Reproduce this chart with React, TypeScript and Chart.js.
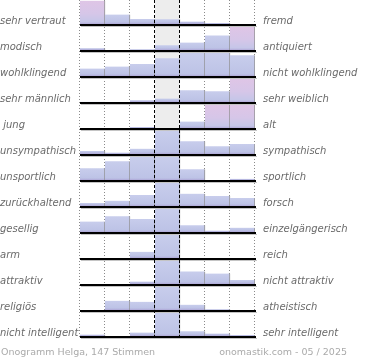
import { useEffect, useRef } from 'react';
import { Chart, registerables } from 'chart.js';

Chart.register(...registerables);

// ---- data ----
const columns = ['1', '2', '3', '4', '5', '6', '7'];

const leftLabels = [
  'sehr vertraut', 'modisch', 'wohlklingend', 'sehr männlich', ' jung', 'unsympathisch',
  'unsportlich', 'zurückhaltend', 'gesellig', 'arm', 'attraktiv', 'religiös', 'nicht intelligent',
];
const rightLabels = [
  'fremd', 'antiquiert', 'nicht wohlklingend', 'sehr weiblich', 'alt', 'sympathisch',
  'sportlich', 'forsch', 'einzelgängerisch', 'reich', 'nicht attraktiv', 'atheistisch', 'sehr intelligent',
];

// bar heights per row, relative to the row's largest bar (= 100)
const vertraut = [100, 43, 25, 24, 14, 8, 2];
const modisch = [11, 1, 7, 24, 35, 64, 100];
const wohlklingend = [35, 43, 53, 77, 100, 99, 89];
const maennlich = [5, 4, 11, 18, 52, 48, 100];
const jung = [0, 0, 8, 1, 31, 100, 100];
const unsympathisch = [16, 10, 26, 100, 57, 36, 45];
const unsportlich = [52, 81, 100, 100, 48, 0, 9];
const zurueckhaltend = [16, 26, 49, 100, 55, 45, 37];
const gesellig = [47, 69, 58, 100, 32, 10, 22];
const arm = [0, 0, 30, 100, 0, 0, 0];
const attraktiv = [3, 4, 14, 100, 56, 47, 21];
const religioes = [0, 42, 38, 100, 26, 7, 3];
const intelligent = [10, 4, 18, 100, 24, 14, 8];

const rows = [
  vertraut, modisch, wohlklingend, maennlich, jung, unsympathisch,
  unsportlich, zurueckhaltend, gesellig, arm, attraktiv, religioes, intelligent,
];

const footerLeft = 'Onogramm Helga, 147 Stimmen';
const footerRight = 'onomastik.com - 05 / 2025';

// ---- layout constants ----
const ROWS = rows.length;
const BAR_SPAN = 0.935; // fraction of a row a full bar fills
const LABEL_OFFSET = 0.12;
const MID = 3;
const FONT = '"DejaVu Sans", Verdana, sans-serif';

function barFill(context: any) {
  const chart = context.chart;
  const y = chart.scales?.y;
  const raw = context.raw as [number, number] | undefined;
  if (!y || !raw || !chart.chartArea) return '#c2c8e8';
  const yTop = y.getPixelForValue(raw[1]);
  const yBot = y.getPixelForValue(raw[0]);
  const h = yBot - yTop;
  if (h <= 0.5) return '#a99dd0';
  const rowIdx = context.datasetIndex as number;
  const vals = rows[rowIdx];
  const sum = vals.reduce((a, b) => a + b, 0);
  const share = (vals[context.dataIndex] ?? 0) / sum;
  const pink = context.dataIndex !== MID && share > 0.35;
  const g = chart.ctx.createLinearGradient(0, yTop, 0, yBot);
  const s = Math.max(0, 1 - 3 / h);
  if (pink) {
    g.addColorStop(0, '#dfc5e6');
    g.addColorStop(s * 0.6, '#d6c6e8');
    g.addColorStop(s, '#c5c6e8');
  } else {
    g.addColorStop(0, '#c8cdec');
    g.addColorStop(s, '#bdc3e6');
  }
  g.addColorStop(1, '#a89bd0');
  return g;
}

const decor = {
  id: 'decor',
  beforeDatasetsDraw(chart: any) {
    const { ctx, chartArea, scales } = chart;
    const x = scales.x;
    const y = scales.y;
    const w = x.getPixelForValue(1) - x.getPixelForValue(0);
    const edge = (j: number) => x.getPixelForValue(0) - w / 2 + j * w;
    const top = chartArea.top;
    const bottom = y.getPixelForValue(0);
    ctx.save();
    ctx.fillStyle = '#ededed';
    ctx.fillRect(edge(MID), top, w, bottom - top);
    ctx.strokeStyle = '#8a8a8a';
    ctx.lineWidth = 1;
    ctx.setLineDash([1, 2]);
    for (let j = 0; j <= columns.length; j++) {
      if (j === MID || j === MID + 1) continue;
      const px = Math.round(edge(j)) - 0.5;
      ctx.beginPath();
      ctx.moveTo(px, top);
      ctx.lineTo(px, bottom);
      ctx.stroke();
    }
    ctx.restore();
  },
  afterDatasetsDraw(chart: any) {
    const { ctx, chartArea, scales } = chart;
    const x = scales.x;
    const y = scales.y;
    const w = x.getPixelForValue(1) - x.getPixelForValue(0);
    const edge = (j: number) => x.getPixelForValue(0) - w / 2 + j * w;
    const top = chartArea.top;
    const bottom = y.getPixelForValue(0);
    ctx.save();
    // baselines
    for (let i = 0; i < ROWS; i++) {
      const yb = Math.round(y.getPixelForValue(i));
      ctx.fillStyle = '#c4c4c4';
      ctx.fillRect(edge(0) + 1, yb + 1, edge(columns.length) - edge(0) + 1, 1);
      ctx.fillStyle = '#000';
      ctx.fillRect(edge(0), yb - 1, edge(columns.length) - edge(0) + 1, 2);
    }
    // dashed middle lines
    ctx.strokeStyle = '#000';
    ctx.lineWidth = 1;
    ctx.setLineDash([3, 2]);
    for (const j of [MID, MID + 1]) {
      const px = Math.round(edge(j)) - 0.5;
      ctx.beginPath();
      ctx.moveTo(px, top);
      ctx.lineTo(px, bottom);
      ctx.stroke();
    }
    ctx.setLineDash([]);
    // footer
    ctx.fillStyle = '#aaaaaa';
    ctx.font = `9.5px ${FONT}`;
    ctx.textBaseline = 'middle';
    ctx.textAlign = 'left';
    ctx.fillText(footerLeft, 1, 353);
    ctx.textAlign = 'right';
    ctx.fillText(footerRight, 347, 353);
    ctx.restore();
  },
};

const labelTicks = (scale: any) => {
  scale.ticks = rows.map((_, i) => ({ value: ROWS - 1 - i + LABEL_OFFSET }));
};

const fitAxis = (width: number) => (s: any) => {
  s.width = width;
  s.paddingTop = 0;
  s.paddingBottom = 0;
};

export default function App() {
  const ref = useRef<HTMLCanvasElement>(null);
  useEffect(() => {
    if (!ref.current) return;
    const datasets = rows.map((vals, i) => {
      const base = ROWS - 1 - i;
      return {
        label: leftLabels[i],
        data: vals.map((v) => [base, base + (v / 100) * BAR_SPAN]),
        backgroundColor: barFill,
        borderColor: '#8e8e8e',
        borderWidth: { top: 0, right: 1, bottom: 0, left: 0 },
        borderSkipped: false,
        barPercentage: 1,
        categoryPercentage: 1,
        grouped: false,
        yAxisID: 'y',
      };
    });
    const chart = new Chart(ref.current, {
      type: 'bar',
      data: { labels: columns, datasets: datasets as any },
      options: {
        animation: false,
        responsive: true,
        maintainAspectRatio: false,
        layout: { padding: { top: 0, bottom: 23, left: 0, right: 0 } },
        plugins: { legend: { display: false }, tooltip: { enabled: false } },
        scales: {
          x: { display: false, offset: true },
          y: {
            position: 'left',
            min: 0,
            max: ROWS - 1 + 25 / 26,
            grid: { display: false, drawTicks: false },
            border: { display: false },
            afterBuildTicks: labelTicks,
            afterFit: fitAxis(80),
            ticks: {
              autoSkip: false,
              crossAlign: 'far',
              padding: 0,
              color: '#6a6a6a',
              font: { family: FONT, size: 10, style: 'italic' },
              callback: (_v: any, idx: number) => leftLabels[idx],
            },
          },
          y2: {
            position: 'right',
            min: 0,
            max: ROWS - 1 + 25 / 26,
            grid: { display: false, drawTicks: false },
            border: { display: false },
            afterBuildTicks: labelTicks,
            afterFit: fitAxis(115),
            ticks: {
              autoSkip: false,
              padding: 8,
              color: '#6a6a6a',
              font: { family: FONT, size: 10, style: 'italic' },
              callback: (_v: any, idx: number) => rightLabels[idx],
            },
          },
        },
      } as any,
      plugins: [decor],
    });
    return () => chart.destroy();
  }, []);
  return (
    <div style={{ position: 'absolute', left: 0, top: 0, width: 370, height: 360 }}>
      <canvas ref={ref} />
    </div>
  );
}
